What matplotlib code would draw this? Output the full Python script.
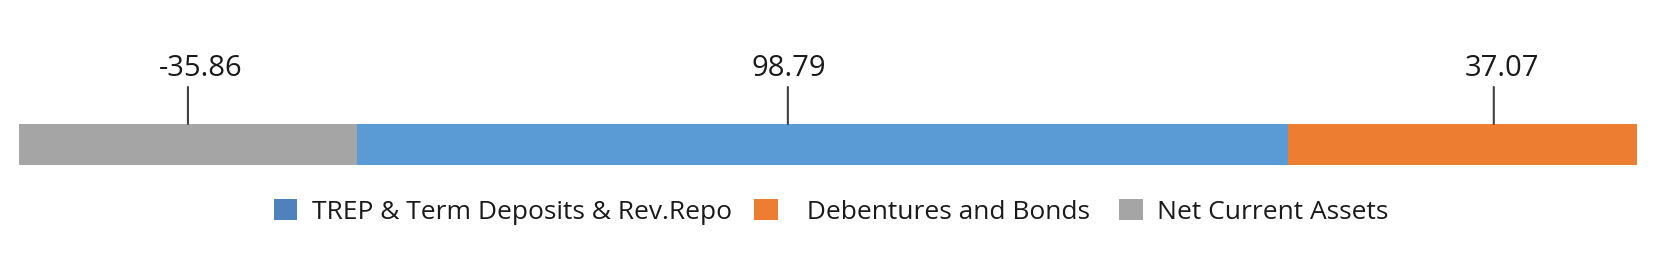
import matplotlib
matplotlib.use("Agg")
import matplotlib.pyplot as plt
from matplotlib.patches import Patch

# Data
categories = ["Net Current Assets", "TREP & Term Deposits & Rev.Repo", "Debentures and Bonds"]
values = [-35.86, 98.79, 37.07]
labels = ["-35.86", "98.79", "37.07"]

# Styles
bar_colors = ["#A5A5A5", "#5B9BD5", "#ED7D31"]
legend_colors = {"TREP & Term Deposits & Rev.Repo": "#4F81BD",
                 "Debentures and Bonds": "#ED7D31",
                 "Net Current Assets": "#A5A5A5"}
legend_order = ["TREP & Term Deposits & Rev.Repo", "Debentures and Bonds", "Net Current Assets"]
legend_text = {"TREP & Term Deposits & Rev.Repo": "TREP & Term Deposits & Rev.Repo",
               "Debentures and Bonds": "  Debentures and Bonds ",
               "Net Current Assets": "Net Current Assets"}
line_frac = [0.5, 0.463, 0.59]     # leader-line position within each segment
text_shift = [13, 1, 8]            # text offset in pixels from leader line

plt.rcParams['font.family'] = ['Open Sans', 'DejaVu Sans']

W, H = 1657, 275
fig = plt.figure(figsize=(W / 100, H / 100), dpi=100)
ax = fig.add_axes([19 / W, (H - 165) / H, (1637 - 19) / W, 41 / H])

widths = [abs(v) for v in values]
left = 0.0
lefts = []
for w, c in zip(widths, bar_colors):
    ax.barh(0, w, left=left, height=1.0, color=c, edgecolor='none')
    lefts.append(left)
    left += w
total = left
ax.set_xlim(0, total)
ax.set_ylim(-0.5, 0.5)
ax.axis('off')

for lft, w, lab, fr, sh in zip(lefts, widths, labels, line_frac, text_shift):
    x = lft + w * fr
    ax.annotate("", xy=(x, 0.5), xycoords='data',
                xytext=(0, 37 * 0.72), textcoords='offset points',
                arrowprops=dict(arrowstyle='-', color='#404040', lw=1.5,
                                shrinkA=0, shrinkB=0))
    ax.annotate(lab, xy=(x, 0.5), xycoords='data',
                xytext=(sh * 0.72, 56 * 0.72), textcoords='offset points',
                ha='center', va='center', fontsize=21, color='#1a1a1a')

handles = [Patch(facecolor=legend_colors[k], edgecolor='none') for k in legend_order]
texts = [legend_text[k] for k in legend_order]
fig.legend(handles, texts, loc='center', bbox_to_anchor=(831 / W, 1 - 212 / H),
           ncol=3, frameon=False, fontsize=19, handlelength=0.9, handleheight=0.85,
           handletextpad=0.55, columnspacing=0.85, borderpad=0, labelcolor='#1a1a1a')

fig.savefig("out.png", dpi=100)
